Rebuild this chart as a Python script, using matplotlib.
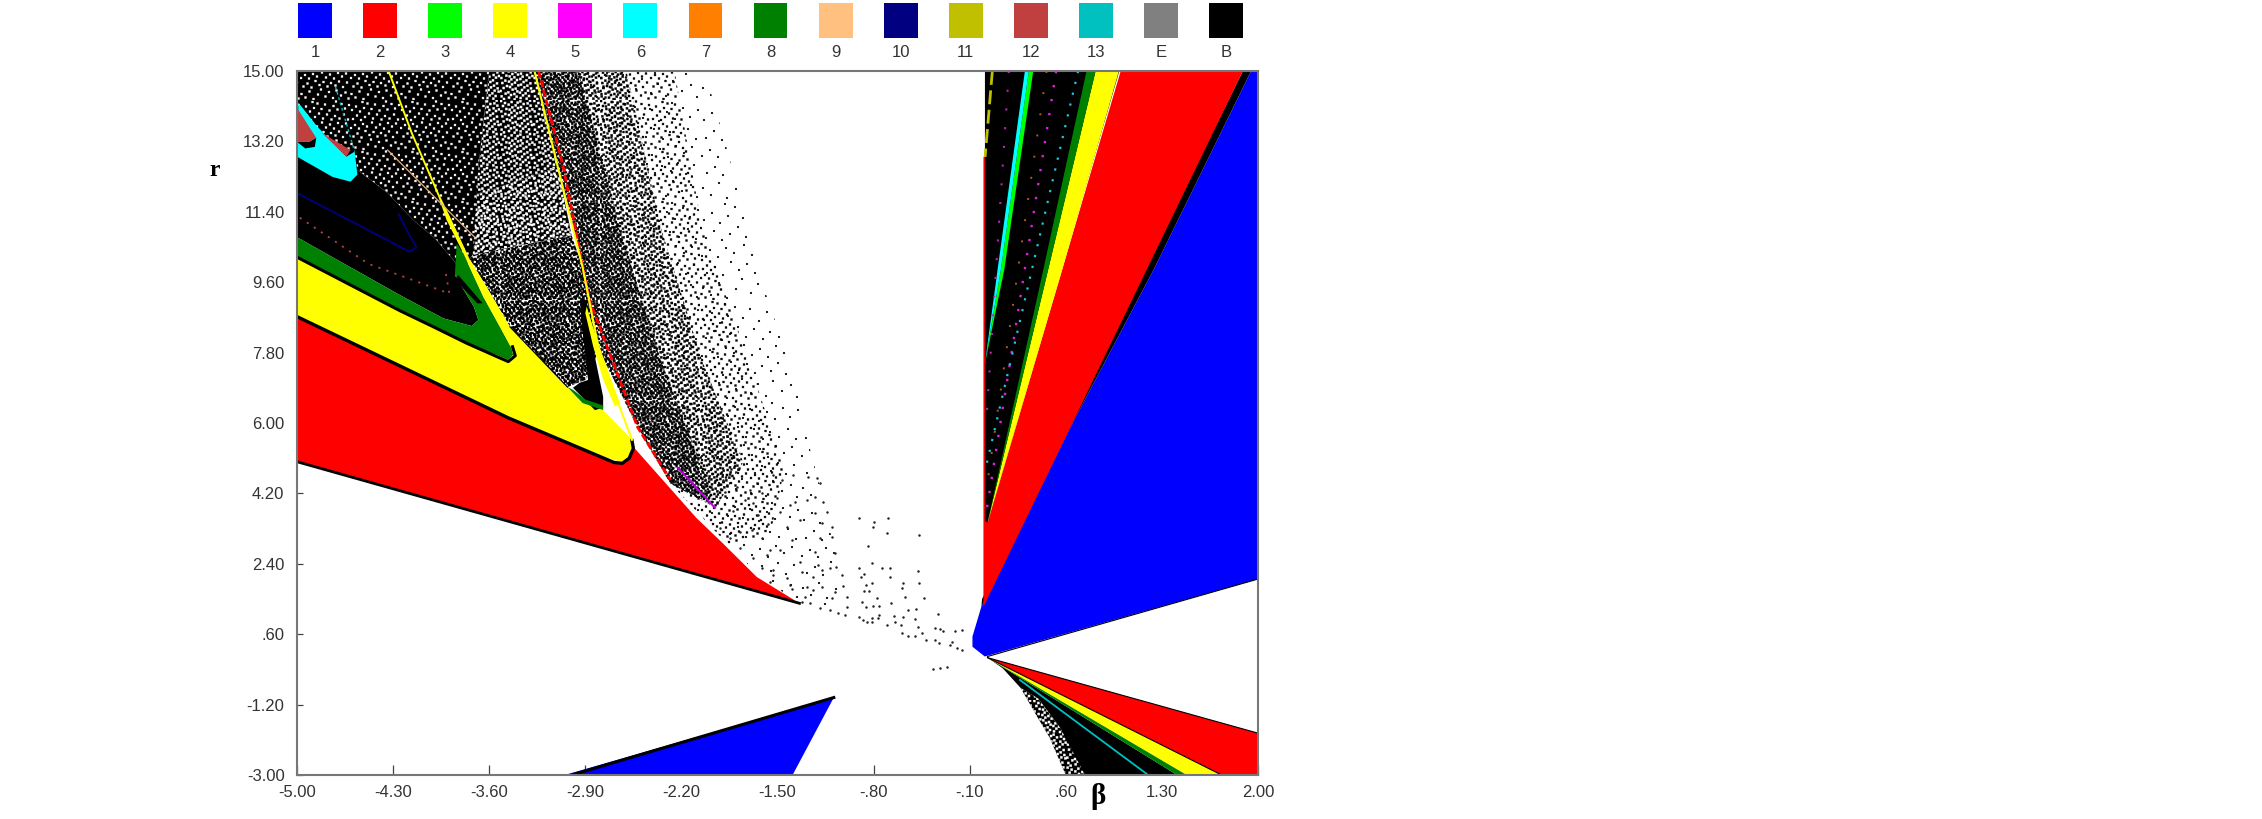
import matplotlib
matplotlib.use("Agg")
import matplotlib.pyplot as plt
import matplotlib.hatch as mhatch
import numpy as np
from matplotlib.path import Path

W, H = 2262, 819
plt.rcParams['font.family'] = ['Liberation Sans', 'DejaVu Sans']
plt.rcParams['hatch.linewidth'] = 0.25

# ---- legend
legend_labels = ['1','2','3','4','5','6','7','8','9','10','11','12','13','E','B']
legend_colors = ['#0000ff','#ff0000','#00ff00','#ffff00','#ff00ff','#00ffff','#ff8000','#008000',
                 '#ffc080','#000080','#c0c000','#c04040','#00c0c0','#808080','#000000']
# ---- axis ticks
x_ticks = [-5.0,-4.3,-3.6,-2.9,-2.2,-1.5,-0.8,-0.1,0.6,1.3,2.0]
x_tick_labels = ['-5.00','-4.30','-3.60','-2.90','-2.20','-1.50','-.80','-.10','.60','1.30','2.00']
y_ticks = [15,13.2,11.4,9.6,7.8,6.0,4.2,2.4,0.6,-1.2,-3.0]
y_tick_labels = ['15.00','13.20','11.40','9.60','7.80','6.00','4.20','2.40','.60','-1.20','-3.00']

# ---- regions of the (beta, r) plane, as outlines
blue_right = [(2,15),(1.95,15),(1.24,9.92),(0.66,6.07),(-0.015,1.305),(-0.08,0.54),(-0.08,0.28),(0.01,0.03),(2,2.01)]
black_edge_right = [(1.89,15),(1.95,15),(1.24,9.92),(0.66,6.07),(-0.015,1.305),(-0.01,1.5)]
red_right = [(0.0,1.3),(0.0,12.8),(0.018,12.8),(0.03,3.45),(1.0,15),(1.89,15)]
fan_black = [(0.011,15),(0.011,3.5),(0.03,3.45),(0.99,15)]
fan_yellow = [(0.817,15),(0.987,15),(0.574,9.92),(0.03,3.45)]
fan_dgreen = [(0.751,15),(0.817,15),(0.472,9.92),(0.03,3.45),(0.436,9.92)]
fan_green = [(0.331,15),(0.363,15),(0.152,9.92),(0.01,7.5),(0.127,9.92)]
fan_cyan = [(0.302,15),(0.331,15),(0.127,9.92),(0.01,7.5),(0.103,9.92)]

low_red = [(0.03,0.0),(2,-1.93),(2,-3),(1.735,-3)]
low_yellow = [(0.03,0.0),(1.735,-3),(1.48,-3)]
low_dgreen = [(0.03,0.0),(1.48,-3),(1.41,-3)]
low_black = [(0.03,0.0),(1.41,-3),(0.72,-3),(0.56,-1.8),(0.40,-1.05),(0.27,-0.77),(0.14,-0.27)]
low_fringe = [(0.27,-0.77),(0.39,-1.5),(0.48,-2.03),(0.60,-3),(0.74,-3),(0.56,-1.8),(0.40,-1.05)]

blue_low = [(-1.09,-1.02),(-3.05,-3),(-1.39,-3)]
blue_low_edge_x = [-1.09,-3.0]
blue_low_edge_y = [-1.02,-3.0]

red_left = [(-5,5.01),(-5,8.7),(-3.46,6.11),(-2.69,4.97),(-2.6,5.0),(-2.55,5.39),(-2.09,3.57),(-1.90,2.93),(-1.65,2.06),(-1.34,1.39)]
yellow_left = [(-5,8.75),(-5,10.24),(-4.25,8.87),(-4.007,8.46),(-3.764,8.04),(-3.546,7.74),(-3.461,7.61),(-3.425,7.74),(-3.437,7.91),
               (-3.522,8.46),(-3.643,9.23),(-3.789,10.34),(-3.91,11.19),(-3.97,11.78),(-4.17,13.4),(-4.34,15),(-4.325,15),(-4.155,13.4),
               (-3.955,11.78),(-3.874,11.19),(-3.74,10.17),(-3.619,9.48),(-3.449,8.46),(-3.109,7.18),(-3.03,6.92),(-2.92,6.51),(-2.77,6.33),
               (-2.56,5.57),(-2.55,5.35),(-2.58,5.12),(-2.63,5.0),(-2.70,5.06),(-3.23,5.77)]
green_left = [(-5,10.24),(-5,10.75),(-4.25,9.27),(-3.934,8.675),(-3.728,8.48),(-3.679,8.63),(-3.711,8.97),(-3.85,9.78),(-3.837,10.59),
              (-3.789,10.34),(-3.643,9.23),(-3.522,8.46),(-3.437,7.91),(-3.425,7.74),(-3.461,7.61),(-3.546,7.74),(-3.764,8.04),(-4.007,8.46),(-4.25,8.87)]
green_sliver = [(-3.825,9.78),(-3.648,9.06),(-3.687,9.06),(-3.85,9.67)]
green_border_x = [-5,-4.25,-4.007,-3.764,-3.546,-3.461,-3.41,-3.43]
green_border_y = [10.24,8.87,8.46,8.04,7.70,7.57,7.72,7.95]
black_left = [(-5,10.75),(-4.25,9.27),(-3.934,8.675),(-3.728,8.48),(-3.679,8.63),(-3.711,8.97),(-3.85,9.78),(-3.80,9.91),
              (-3.995,10.72),(-4.153,11.19),(-4.34,11.88),(-4.56,12.47),(-4.58,12.9),(-5,13.0)]
cyan_left = [(-4.99,14.19),(-4.85,13.57),(-4.64,12.81),(-4.58,12.94),(-4.56,12.35),(-4.61,12.17),(-4.74,12.29),(-5,12.81)]
brown_left = [(-5,14.06),(-4.86,13.29),(-4.91,13.19),(-5,13.19)]
brown_strip = [(-4.82,13.42),(-4.64,12.81),(-4.61,12.98)]
black_under_brown = [(-5,13.19),(-4.94,13.02),(-4.87,13.06),(-4.86,13.29),(-4.91,13.19)]
spike = [(-2.94,9.15),(-2.89,9.15),(-2.83,7.69),(-2.77,6.67),(-2.77,6.39),(-2.83,6.33),(-2.99,6.90),(-2.94,7.03),(-2.88,7.10),(-2.92,8.38)]
spike_green = [(-3.03,6.92),(-2.92,6.51),(-2.77,6.33),(-2.77,6.45),(-2.90,6.6),(-2.99,6.85)]
curve2_wedge = [(-2.89,8.98),(-2.83,8.30),(-2.745,7.44),(-2.647,6.50),(-2.684,6.42),(-2.769,7.1),(-2.842,7.95),(-2.90,8.81)]

# ---- stippled chaotic zones, nested from sparse to dense
edge_low = [(-1.34,1.39),(-1.62,2.06),(-1.85,2.85),(-2.05,3.6),(-2.28,4.45),(-2.52,5.90),(-2.80,7.86),(-2.92,9.99),(-3.10,12.54),(-3.27,15)]
zone_outer = [(-2.03,15),(-1.90,13.4),(-1.75,11.5),(-1.57,9.13),(-1.37,7.17),(-1.32,6.08),(-1.21,4.63),(-1.09,2.84),(-1.01,1.31)] + edge_low
zone_mid = [(-2.25,15),(-2.05,11),(-1.7,7.5),(-1.45,4.8),(-1.55,3.2),(-1.85,2.85),(-2.05,3.6),(-2.28,4.45),(-2.52,5.90),(-2.80,7.86),(-2.92,9.99),(-3.10,12.54),(-3.27,15)]
zone_inner = [(-2.6,15),(-2.35,11),(-2.05,7.6),(-1.75,5),(-1.95,3.83),(-2.28,4.45),(-2.52,5.90),(-2.80,7.86),(-2.92,9.99),(-3.10,12.54),(-3.27,15)]
zone_dense = [(-2.95,15),(-2.65,11),(-2.35,7.6),(-2.02,4.6),(-1.97,3.9),(-2.28,4.45),(-2.52,5.90),(-2.80,7.86),(-2.92,9.99),(-3.10,12.54),(-3.27,15)]
zone_A = [(-5,15),(-3.6,15),(-3.68,12.5),(-3.72,10.3),(-3.80,9.91),(-3.995,10.72),(-4.153,11.19),(-4.34,11.88),(-4.56,12.47),(-5,12.6)]
zone_B = [(-3.6,15),(-3.27,15),(-3.10,12.54),(-3.72,11.8),(-3.68,12.5)]
zone_B2 = [(-3.72,10.3),(-3.0,10.8),(-3.10,12.54),(-3.72,11.8)]
zone_C = [(-3.80,9.91),(-3.72,10.3),(-3.0,10.8),(-2.92,9.99),(-2.80,7.86),(-2.9,7.1),(-3.03,6.92),(-3.449,8.46),(-3.619,9.48),(-3.74,10.17)]

# ---- thin curves
curve2_yellow_x = [-3.27,-3.10,-2.92,-2.80,-2.65,-2.56]
curve2_yellow_y = [15,12.54,9.99,7.86,6.41,5.57]
curve2_red_x = [-3.24,-3.06,-2.87,-2.52,-2.28]
curve2_red_y = [15,12.54,9.15,5.90,4.54]
magenta_x = [-2.225,-1.955]
magenta_y = [4.85,3.83]
navy_x = [-4.99,-4.18,-4.13,-4.19,-4.26]
navy_y = [11.86,10.38,10.5,10.86,11.35]
brown_dots_x = [-4.98,-4.48,-3.89,-3.92]
brown_dots_y = [11.25,10.07,9.31,9.90]
tan_x = [-4.34,-3.70]
tan_y = [12.98,10.73]
cyan_dots_x = [-4.72,-4.58]
cyan_dots_y = [14.6,12.94]
fan_mag1_x = [0.53,0.02]
fan_mag1_y = [15,3.7]
fan_cyan_dots_x = [0.69,0.02]
fan_cyan_dots_y = [15,4.9]
fan_mag2_x = [0.185,0.02]
fan_mag2_y = [15,6.0]
fan_or_x = [0.46,0.03]
fan_or_y = [15,4.5]
fan_ol_x = [0.065,0.012]
fan_ol_y = [15,12.8]
low_cyan_x = [0.266,1.20]
low_cyan_y = [-0.57,-3]

# ---- isolated points
dots = [(-0.905,3.58),(-0.795,3.48),(-0.693,3.58),(-0.808,3.35),(-0.706,3.18),(-0.468,3.13),(-0.844,2.86),(-0.810,2.41),
 (-0.907,2.30),(-0.742,2.30),(-0.681,2.30),(-0.480,2.22),(-0.868,2.13),(-0.895,2.07),(-0.681,2.07),(-0.859,1.86),(-0.815,1.90),
 (-0.468,1.90),(-0.584,1.90),(-0.594,1.77),(-0.868,1.71),(-0.834,1.71),(-0.778,1.52),(-0.674,1.39),(-0.570,1.56),(-0.431,1.52),
 (-0.888,1.43),(-0.859,1.29),(-0.808,1.32),(-0.761,1.32),(-0.494,1.24),(-0.329,1.12),(-0.652,1.07),(-0.761,1.09),(-0.584,1.05),
 (-0.548,1.22),(-0.907,1.03),(-0.876,0.96),(-0.815,0.92),(-0.766,1.01),(-0.706,0.84),(-0.645,0.92),(-0.604,0.84),(-0.499,0.99),
 (-0.475,0.79),(-0.354,0.77),(-0.317,0.73),(-0.293,0.68),(-0.208,0.68),(-0.155,0.71),(-0.592,0.64),(-0.548,0.56),(-0.499,0.55),
 (-0.451,0.62),(-0.419,0.45),(-0.354,0.45),(-0.322,0.38),(-0.232,0.41),(-0.244,0.32),(-0.191,0.24),(-0.155,0.20),(-0.815,1.01),
 (-0.851,0.92),(-0.366,-0.30),(-0.317,-0.27),(-0.268,-0.23),
 (-1.895,4.544),(-1.798,4.374),(-1.701,4.288),(-1.616,4.203),(-1.531,4.672),(-1.470,4.544),(-1.385,4.672),(-1.276,4.629),(-1.215,4.587),(-1.191,4.459),
 (-1.883,4.246),(-1.737,4.033),(-1.677,3.947),(-1.507,4.075),(-1.373,3.973),(-1.288,4.033),(-1.228,4.118),(-1.167,3.973),(-1.822,3.760),(-1.640,3.649),
 (-1.567,3.419),(-1.482,3.734),(-1.410,3.905),(-1.228,3.692),(-1.143,3.734),(-1.337,3.521),(-1.179,3.436),(-1.106,3.351),(-1.920,3.308),(-1.774,3.223),
 (-1.689,3.265),(-1.616,3.052),(-1.434,3.351),(-1.398,3.010),(-1.191,3.052),(-1.106,3.095),(-1.847,3.052),(-1.774,2.797),(-1.555,2.754),(-1.482,2.754),
 (-1.677,2.541),(-1.580,2.626),(-1.337,2.456),(-1.228,2.711),(-1.082,2.669),(-1.203,2.370),(-1.075,2.328),(-1.118,2.285),(-1.179,2.242),(-1.616,2.285),
 (-1.531,2.242),(-1.434,2.029),(-1.325,2.200),(-1.240,2.072),(-1.033,2.115),(-1.288,1.816),(-1.398,1.748),(-1.021,1.842),(-1.179,1.816),(-1.082,1.688),
 (-1.300,1.560),(-1.240,1.731),(-1.106,1.518),(-0.997,1.560),(-1.325,1.433),(-1.264,1.390),(-1.191,1.262),(-1.118,1.219),(-1.058,1.134),(-1.009,1.092),
 (-0.997,1.305),(-1.555,1.944),(-1.531,2.115),(-1.410,1.859)]

# ---- stipple texture: a hand-drawn repeating hatch tile (a fill style, not data)
hatch_tile = [(.03,.12),(.11,.05),(.19,.17),(.27,.02),(.36,.11),(.42,.21),(.51,.07),(.58,.16),(.66,.04),(.73,.19),(.82,.09),(.91,.15),(.97,.03),
 (.07,.27),(.15,.33),(.23,.25),(.31,.38),(.39,.30),(.47,.36),(.55,.27),(.62,.34),(.71,.29),(.78,.37),(.86,.26),(.94,.35),
 (.02,.44),(.10,.50),(.18,.43),(.26,.52),(.34,.47),(.44,.55),(.52,.45),(.60,.51),(.68,.43),(.76,.54),(.84,.47),(.92,.53),
 (.06,.62),(.14,.69),(.22,.60),(.30,.66),(.38,.73),(.46,.63),(.54,.71),(.63,.61),(.70,.68),(.79,.63),(.88,.71),(.96,.61),
 (.04,.80),(.12,.87),(.20,.77),(.28,.84),(.35,.93),(.43,.82),(.50,.91),(.59,.79),(.67,.88),(.75,.81),(.83,.92),(.90,.83),(.98,.90),(.25,.96),(.72,.97)]

class TileDots:
    """'.' tile once, 'o' tile 2x2, 'O' swapped tile 3x3, '*' mirrored tile 4x4."""
    layers = {'.': (1, 0, .0085), 'o': (2, 0, .0095), 'O': (3, 1, .0105), '*': (4, 2, .0095)}
    def __init__(self, hatch, density):
        self.centres = []
        tile = np.array(hatch_tile)
        for ch, (k, mode, half) in self.layers.items():
            if ch in (hatch or ''):
                base = tile if mode == 0 else tile[:, ::-1] if mode == 1 else np.c_[1 - tile[:, 0], tile[:, 1]]
                for i in range(k):
                    for j in range(k):
                        for c in (base + [i, j]) / k:
                            self.centres.append((c[0], c[1], half))
        self.num_vertices = 5 * len(self.centres)
    def set_vertices_and_codes(self, vertices, codes):
        for n, (cx, cy, h) in enumerate(self.centres):
            vertices[5*n:5*n+5] = [(cx-h,cy-h),(cx+h,cy-h),(cx+h,cy+h),(cx-h,cy+h),(cx-h,cy-h)]
            codes[5*n:5*n+5] = [Path.MOVETO, Path.LINETO, Path.LINETO, Path.LINETO, Path.CLOSEPOLY]

mhatch._hatch_types = [TileDots]

fig = plt.figure(figsize=(W/100, H/100), dpi=100, facecolor='white')
L, R, T, B = 297, 1258, 71, 775
ax = fig.add_axes([L/W, 1-B/H, (R-L)/W, (B-T)/H])
ax.set_xlim(-5, 2); ax.set_ylim(-3, 15)

def poly(pts, color, z=2, **kw):
    xs, ys = zip(*pts)
    ax.fill(xs, ys, facecolor=color, edgecolor='none', linewidth=0, zorder=z, **kw)

def stip(pts, ink, pattern, ground='none', z=1):
    xs, ys = zip(*pts)
    ax.fill(xs, ys, facecolor=ground, edgecolor=ink, hatch=pattern, linewidth=0, zorder=z)

# stipple
stip(zone_outer, 'k', '.', z=1)
stip(zone_mid, 'k', 'o', z=1.1)
stip(zone_inner, 'k', 'O', z=1.2)
stip(zone_dense, 'k', '*', z=1.3)
stip(zone_C, 'k', 'oO*', z=1.3)
stip(zone_B, 'w', 'O', ground='k', z=1.4)
stip(zone_B2, 'w', 'oO', ground='k', z=1.4)
stip(zone_A, 'w', 'o', ground='k', z=1.5)

poly(black_left, 'k')
poly(green_left, '#008000', z=2.2)
poly(green_sliver, 'k', z=2.25)
poly(red_left, '#ff0000', z=2.4)
poly(yellow_left, '#ffff00', z=2.5)
ax.plot(green_border_x, green_border_y, color='k', lw=2.2, zorder=2.6)
ax.plot([-5,-3.46,-2.69,-2.63,-2.58,-2.55,-2.56], [8.72,6.13,4.99,4.97,5.1,5.35,5.55], color='k', lw=2.4, zorder=2.6)
ax.plot([-5,-1.34], [5.01,1.39], color='k', lw=2.0, zorder=2.6)
ax.plot([-3.449,-3.03], [8.46,6.92], color='k', lw=0.9, zorder=2.6)
poly(cyan_left, '#00ffff', z=2.7)
poly(black_under_brown, 'k', z=2.8)
poly(brown_left, '#c04040', z=2.9)
poly(brown_strip, '#c04040', z=2.9)
poly(spike, 'k', z=2.8)
poly(spike_green, '#008000', z=2.85)
poly(curve2_wedge, '#ffff00', z=2.95)
ax.plot(curve2_red_x, curve2_red_y, color='#ff0000', lw=2.0, ls=(0,(2.5,1)), zorder=3)
ax.plot(curve2_yellow_x, curve2_yellow_y, color='#ffff00', lw=1.5, zorder=3.1)
ax.plot(magenta_x, magenta_y, color='#c000e0', lw=1.4, zorder=3)
ax.plot(navy_x, navy_y, color='#000080', lw=1.3, zorder=3)
ax.plot(brown_dots_x, brown_dots_y, color='#b04040', lw=1.3, ls=(0,(1.2,3.5)), zorder=3)
ax.plot(tan_x, tan_y, color='#e8b080', lw=0.9, zorder=3)
ax.plot(cyan_dots_x, cyan_dots_y, color='#00b8c0', lw=1.0, ls=(0,(2,2)), zorder=3)

poly(blue_right, '#0000ff')
poly(black_edge_right, 'k', z=2.1)
poly(red_right, '#ff0000', z=2.2)
poly(fan_black, 'k', z=2.3)
poly(fan_yellow, '#ffff00', z=2.4)
poly(fan_dgreen, '#008000', z=2.4)
poly(fan_green, '#00ff00', z=2.4)
poly(fan_cyan, '#00ffff', z=2.4)
ax.plot(fan_mag1_x, fan_mag1_y, color='#e020e0', lw=1.7, ls=(0,(1,5)), zorder=2.5)
ax.plot(fan_mag2_x, fan_mag2_y, color='#c020c0', lw=1.5, ls=(0,(1,8)), zorder=2.5)
ax.plot(fan_cyan_dots_x, fan_cyan_dots_y, color='#20c8d8', lw=1.6, ls=(0,(1,4)), zorder=2.5)
ax.plot(fan_or_x, fan_or_y, color='#a86020', lw=1.4, ls=(0,(1,10)), zorder=2.5)
ax.plot(fan_ol_x, fan_ol_y, color='#c0c000', lw=2.0, ls=(0,(5,2)), zorder=2.5)

poly(low_black, 'k', z=1.8)
stip(low_fringe, 'w', 'O', ground='k', z=1.9)
poly(low_red, '#ff0000', z=2.2)
poly(low_yellow, '#ffff00', z=2.2)
poly(low_dgreen, '#008000', z=2.2)
ax.plot([0.03,2],[0.0,-1.93], color='k', lw=0.8, zorder=2.3)
ax.plot([0.03,1.735],[0.0,-3], color='k', lw=0.8, zorder=2.3)
ax.plot([0.03,2],[0.03,2.01], color='k', lw=0.8, zorder=2.3)
ax.plot(low_cyan_x, low_cyan_y, color='#00c0c0', lw=1.3, zorder=2.3)

poly(blue_low, '#0000ff')
ax.plot(blue_low_edge_x, blue_low_edge_y, color='k', lw=2.2, zorder=2.1)

ax.scatter(*zip(*dots), s=3.2, color='#222222', linewidths=0, zorder=3)

ax.set_xticks(x_ticks); ax.set_xticklabels(x_tick_labels)
ax.set_yticks(y_ticks); ax.set_yticklabels(y_tick_labels)
ax.tick_params(axis='x', direction='in', length=7.5, width=0.9, color='#444444', pad=7, labelsize=12, labelcolor='#333333')
ax.tick_params(axis='y', direction='in', length=4, width=0.9, color='#444444', pad=9, labelsize=12, labelcolor='#333333')
for s in ax.spines.values():
    s.set_color('#777777'); s.set_linewidth(1.5); s.set_zorder(5)
ax.tick_params(axis='both', zorder=5)

fig.text(215/W, 1-171/H, 'r', family=['Liberation Serif'], weight='bold', fontsize=17, ha='center', va='center')
fig.text(1098/W, 1-797/H, 'β', family=['Liberation Serif','DejaVu Serif'], weight='bold', fontsize=21, ha='center', va='center')

# legend strip
axl = fig.add_axes([L/W, 1-38/H, (R-L)/W, 35/H])
idx = list(range(len(legend_labels)))
axl.bar(idx, [1]*len(idx), width=0.52, color=legend_colors, align='center')
axl.set_xlim(-0.2765, 14.49); axl.set_ylim(0, 1)
axl.set_xticks(idx); axl.set_xticklabels(legend_labels)
axl.set_yticks([])
axl.tick_params(axis='x', length=0, pad=5, labelsize=12, labelcolor='#333333')
for s in axl.spines.values():
    s.set_visible(False)

fig.savefig('out.png', dpi=100)
